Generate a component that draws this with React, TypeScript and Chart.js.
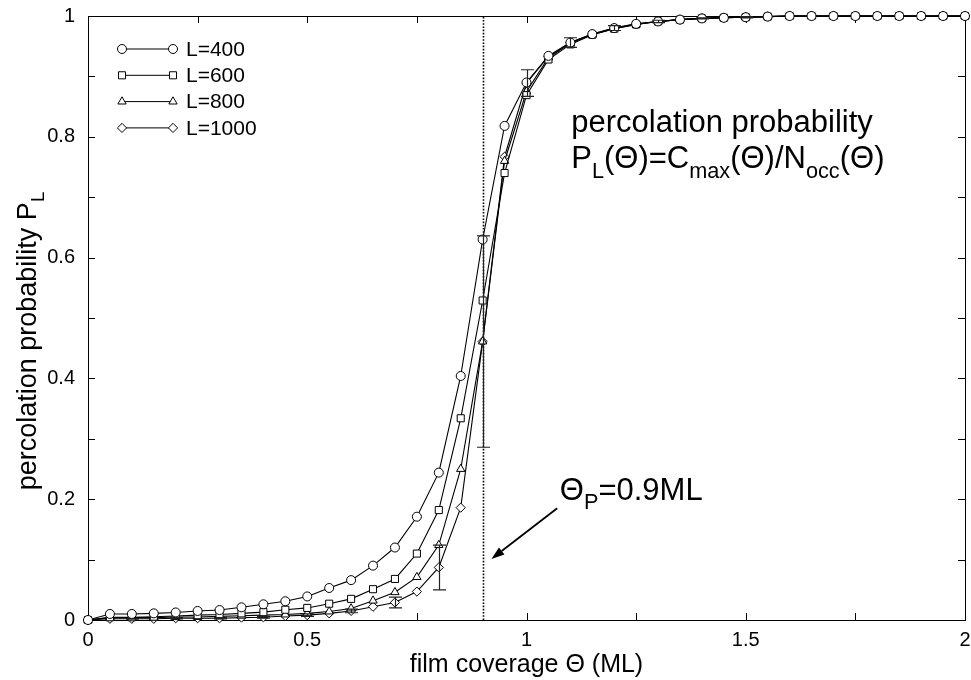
import React, { useEffect, useRef } from 'react';
import { Chart, registerables } from 'chart.js';
import { drawPoint } from 'chart.js/helpers';

Chart.register(...registerables);

const FONT = "'Liberation Sans', Arial, Helvetica, sans-serif";

// film coverage Θ (ML)
const coverage = [
  0, 0.05, 0.1, 0.15, 0.2, 0.25, 0.3, 0.35, 0.4, 0.45,
  0.5, 0.55, 0.6, 0.65, 0.7, 0.75, 0.8, 0.85, 0.9, 0.95,
  1.0, 1.05, 1.1, 1.15, 1.2, 1.25, 1.3, 1.35, 1.4, 1.45,
  1.5, 1.55, 1.6, 1.65, 1.7, 1.75, 1.8, 1.85, 1.9, 1.95, 2.0,
];

const seriesLabels = ['L=400', 'L=600', 'L=800', 'L=1000'];

const L400 = [
  0, 0.010, 0.010, 0.011, 0.0125, 0.015, 0.0165, 0.021, 0.026, 0.031,
  0.039, 0.053, 0.066, 0.090, 0.120, 0.171, 0.244, 0.404, 0.630, 0.818,
  0.890, 0.934, 0.956, 0.970, 0.980, 0.987, 0.991, 0.994, 0.996, 0.997,
  0.998, 0.999, 1, 1, 1, 1, 1, 1, 1, 1, 1,
];
const L600 = [
  0, 0.0045, 0.0045, 0.0055, 0.0065, 0.008, 0.009, 0.011, 0.013, 0.017,
  0.020, 0.027, 0.035, 0.051, 0.068, 0.110, 0.182, 0.334, 0.529, 0.740,
  0.869, 0.928, 0.953, 0.969, 0.979, 0.986, 0.991, 0.994, 0.996, 0.997,
  0.998, 0.999, 1, 1, 1, 1, 1, 1, 1, 1, 1,
];
const L800 = [
  0, 0.004, 0.004, 0.004, 0.005, 0.005, 0.006, 0.007, 0.008, 0.009,
  0.011, 0.014, 0.019, 0.032, 0.046, 0.071, 0.124, 0.250, 0.461, 0.760,
  0.875, 0.931, 0.955, 0.969, 0.979, 0.986, 0.991, 0.994, 0.996, 0.997,
  0.998, 0.999, 1, 1, 1, 1, 1, 1, 1, 1, 1,
];
const L1000 = [
  0, 0.002, 0.002, 0.002, 0.003, 0.003, 0.003, 0.004, 0.0045, 0.0065,
  0.008, 0.011, 0.015, 0.022, 0.029, 0.047, 0.087, 0.186, 0.461, 0.767,
  0.889, 0.933, 0.956, 0.970, 0.980, 0.987, 0.991, 0.994, 0.996, 0.997,
  0.998, 0.999, 1, 1, 1, 1, 1, 1, 1, 1, 1,
];
// error bars (±) on the L=1000 series
const L1000Err = [
  0, 0, 0.0005, 0, 0.001, 0, 0.001, 0, 0.0015, 0,
  0.002, 0, 0.003, 0, 0.009, 0, 0.037, 0, 0.175, 0,
  0.022, 0, 0.008, 0, 0.004, 0, 0.002, 0, 0.001, 0,
  0.001, 0, 0, 0, 0, 0, 0, 0, 0, 0, 0,
];

const xTickLabels = ['0', '0.5', '1', '1.5', '2'];
const yTickLabels = ['0', '0.2', '0.4', '0.6', '0.8', '1'];

const xTitle = 'film coverage Θ (ML)';
const yTitleParts = [{ t: 'percolation probability P' }, { t: 'L', sub: true }];
const annotLine1 = [{ t: 'percolation probability' }];
const annotLine2 = [
  { t: 'P' }, { t: 'L', sub: true }, { t: '(Θ)=C' }, { t: 'max', sub: true },
  { t: '(Θ)/N' }, { t: 'occ', sub: true }, { t: '(Θ)' },
];
const thetaLabel = [{ t: 'Θ' }, { t: 'P', sub: true }, { t: '=0.9ML' }];

const thetaP = 0.9;
// annotation anchors in data coordinates
const annotAnchor = { x: 1.102, y1: 0.808, y2: 0.748 };
const thetaAnchor = { x: 1.076, y: 0.199 };
const arrowFrom = { x: 1.070, y: 0.185 };
const arrowTo = { x: 0.920, y: 0.101 };

const seriesData = [L400, L600, L800, L1000];
const markerStyles = [
  { pointStyle: 'circle', radius: 4.5 },
  { pointStyle: 'rect', radius: 5 },
  { pointStyle: 'triangle', radius: 4.8 },
  { pointStyle: 'rectRot', radius: 4.6 },
];

type Part = { t: string; sub?: boolean };

function drawRich(ctx: CanvasRenderingContext2D, parts: Part[], x: number, y: number, size: number, align: 'left' | 'center' = 'left') {
  const subSize = size * 0.7;
  let total = 0;
  for (const p of parts) {
    ctx.font = `${p.sub ? subSize : size}px ${FONT}`;
    total += ctx.measureText(p.t).width;
  }
  let cx = align === 'center' ? x - total / 2 : x;
  ctx.textAlign = 'left';
  ctx.textBaseline = 'alphabetic';
  for (const p of parts) {
    ctx.font = `${p.sub ? subSize : size}px ${FONT}`;
    ctx.fillText(p.t, cx, y + (p.sub ? size * 0.3 : 0));
    cx += ctx.measureText(p.t).width;
  }
}

const framePlugin = {
  id: 'framePlugin',
  beforeDatasetsDraw(chart: any) {
    const { ctx, chartArea, scales } = chart;
    const { left, right, top, bottom } = chartArea;
    const xs = scales.x;
    const ys = scales.y;
    ctx.save();
    ctx.strokeStyle = '#000';
    // dotted vertical line at percolation threshold
    const px = Math.round(xs.getPixelForValue(thetaP)) + 0.5;
    ctx.lineWidth = 1.6;
    ctx.setLineDash([1.6, 1.6]);
    ctx.beginPath();
    ctx.moveTo(px, ys.getPixelForValue(0));
    ctx.lineTo(px, ys.getPixelForValue(1));
    ctx.stroke();
    ctx.setLineDash([]);
    // inward ticks on all four sides
    ctx.lineWidth = 1;
    const TL = 7;
    ctx.beginPath();
    for (const t of xs.ticks) {
      const p = Math.round(xs.getPixelForValue(t.value)) + 0.5;
      ctx.moveTo(p, bottom);
      ctx.lineTo(p, bottom - TL);
      ctx.moveTo(p, top);
      ctx.lineTo(p, top + TL);
    }
    for (const t of ys.ticks) {
      const p = Math.round(ys.getPixelForValue(t.value)) + 0.5;
      ctx.moveTo(left, p);
      ctx.lineTo(left + TL, p);
      ctx.moveTo(right, p);
      ctx.lineTo(right - TL, p);
    }
    ctx.stroke();
    ctx.strokeRect(Math.round(left) + 0.5, Math.round(top) + 0.5, Math.round(right - left), Math.round(bottom - top));
    ctx.restore();
  },
  afterDatasetsDraw(chart: any) {
    const { ctx, chartArea, scales } = chart;
    const xs = scales.x;
    const ys = scales.y;
    ctx.save();
    // error bars
    ctx.strokeStyle = '#222';
    ctx.lineWidth = 1.2;
    ctx.beginPath();
    coverage.forEach((cv, j) => {
      const e = L1000Err[j];
      if (!e) return;
      const px = Math.round(xs.getPixelForValue(cv)) + 0.5;
      const yT = ys.getPixelForValue(L1000[j] + e);
      const yB = ys.getPixelForValue(L1000[j] - e);
      ctx.moveTo(px, yT);
      ctx.lineTo(px, yB);
      ctx.moveTo(px - 6.5, yT);
      ctx.lineTo(px + 6.5, yT);
      ctx.moveTo(px - 6.5, yB);
      ctx.lineTo(px + 6.5, yB);
    });
    ctx.stroke();

    // legend
    const lx0 = chartArea.left + 34;
    const lx1 = chartArea.left + 85;
    const tx = chartArea.left + 98;
    chart.data.datasets.forEach((ds: any, i: number) => {
      const yy = chartArea.top + 33 + i * 26.3;
      ctx.lineWidth = 1;
      ctx.strokeStyle = '#000';
      ctx.beginPath();
      ctx.moveTo(lx0, yy);
      ctx.lineTo(lx1, yy);
      ctx.stroke();
      ctx.fillStyle = '#fff';
      const opts = { pointStyle: ds.pointStyle, radius: ds.pointRadius, borderWidth: 1, rotation: 0 };
      drawPoint(ctx, opts as any, lx0, yy);
      drawPoint(ctx, opts as any, lx1, yy);
      ctx.fillStyle = '#000';
      ctx.font = `21px ${FONT}`;
      ctx.textAlign = 'left';
      ctx.textBaseline = 'middle';
      ctx.fillText(ds.label, tx, yy + 1);
    });

    // annotations
    ctx.fillStyle = '#000';
    drawRich(ctx, annotLine1, xs.getPixelForValue(annotAnchor.x), ys.getPixelForValue(annotAnchor.y1), 31);
    drawRich(ctx, annotLine2, xs.getPixelForValue(annotAnchor.x), ys.getPixelForValue(annotAnchor.y2), 31);
    drawRich(ctx, thetaLabel, xs.getPixelForValue(thetaAnchor.x), ys.getPixelForValue(thetaAnchor.y), 31);

    // arrow
    const ax0 = xs.getPixelForValue(arrowFrom.x);
    const ay0 = ys.getPixelForValue(arrowFrom.y);
    const ax1 = xs.getPixelForValue(arrowTo.x);
    const ay1 = ys.getPixelForValue(arrowTo.y);
    const ang = Math.atan2(ay1 - ay0, ax1 - ax0);
    const hl = 13;
    const hw = 4.5;
    const bx = ax1 - hl * Math.cos(ang);
    const by = ay1 - hl * Math.sin(ang);
    ctx.strokeStyle = '#000';
    ctx.lineWidth = 1.8;
    ctx.beginPath();
    ctx.moveTo(ax0, ay0);
    ctx.lineTo(bx, by);
    ctx.stroke();
    ctx.beginPath();
    ctx.moveTo(ax1, ay1);
    ctx.lineTo(bx + hw * Math.sin(ang), by - hw * Math.cos(ang));
    ctx.lineTo(bx - hw * Math.sin(ang), by + hw * Math.cos(ang));
    ctx.closePath();
    ctx.fill();

    // y axis title (rotated, with subscript)
    ctx.save();
    ctx.translate(36, ys.getPixelForValue(0.462));
    ctx.rotate(-Math.PI / 2);
    drawRich(ctx, yTitleParts, 0, 0, 27, 'center');
    ctx.restore();

    ctx.restore();
  },
};

export default function App() {
  const ref = useRef<HTMLCanvasElement | null>(null);
  useEffect(() => {
    if (!ref.current) return;
    const chart = new Chart(ref.current, {
      type: 'line',
      data: {
        datasets: seriesData.map((vals, i) => ({
          label: seriesLabels[i],
          data: coverage.map((x, j) => ({ x, y: vals[j] })),
          borderColor: '#000',
          borderWidth: 1.1,
          backgroundColor: '#fff',
          pointStyle: markerStyles[i].pointStyle as any,
          pointRadius: markerStyles[i].radius,
          pointBorderWidth: 1,
          pointBackgroundColor: '#fff',
          pointBorderColor: '#000',
          tension: 0,
          clip: false as any,
        })),
      },
      options: {
        responsive: false,
        maintainAspectRatio: false,
        animation: false,
        devicePixelRatio: 1,
        events: [],
        layout: { padding: { top: 16, right: 6, left: 0, bottom: 0 } },
        plugins: { legend: { display: false }, tooltip: { enabled: false } },
        scales: {
          x: {
            type: 'linear',
            min: 0,
            max: 2,
            grid: { display: false, drawTicks: false },
            border: { display: false },
            ticks: {
              stepSize: 0.25,
              autoSkip: false,
              maxRotation: 0,
              color: '#000',
              padding: 8,
              font: { family: FONT, size: 20 },
              callback: (v: any) => {
                const k = Math.round(Number(v) * 4);
                return k % 2 === 0 ? xTickLabels[k / 2] : '';
              },
            },
            title: {
              display: true,
              text: xTitle,
              color: '#000',
              font: { family: FONT, size: 25 },
              padding: { top: 0, bottom: 0 },
            },
            afterFit: (s: any) => { s.height = 60; s.paddingLeft = 0; s.paddingRight = 0; },
          },
          y: {
            type: 'linear',
            min: 0,
            max: 1,
            grid: { display: false, drawTicks: false },
            border: { display: false },
            ticks: {
              stepSize: 0.1,
              autoSkip: false,
              color: '#000',
              padding: 13,
              font: { family: FONT, size: 20 },
              callback: (v: any) => {
                const k = Math.round(Number(v) * 10);
                return k % 2 === 0 ? yTickLabels[k / 2] : '';
              },
            },
            afterFit: (s: any) => { s.width = 88; s.paddingTop = 0; s.paddingBottom = 0; },
          },
        },
      } as any,
      plugins: [framePlugin],
    });
    return () => chart.destroy();
  }, []);
  return (
    <div style={{ position: 'absolute', left: 0, top: 0, width: 971, height: 680, background: '#fff' }}>
      <canvas ref={ref} width={971} height={680} style={{ display: 'block' }} />
    </div>
  );
}
